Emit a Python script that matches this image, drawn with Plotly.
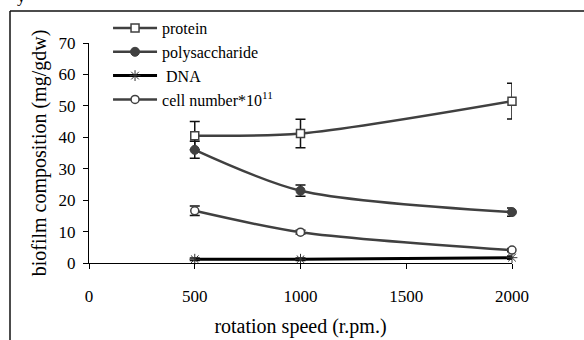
import plotly.graph_objects as go

speed = [500, 1000, 2000]
protein = [40.5, 41.2, 51.5]
protein_err = [4.5, 4.5, 5.7]
polysaccharide = [36.0, 23.0, 16.2]
polysaccharide_err = [2.7, 1.8, 1.3]
dna = [1.2, 1.2, 1.7]
dna_err = [0.4, 0.4, 0.5]
cells = [16.6, 9.8, 4.1]
cells_err = [1.5, 0.6, 0.5]

x_ticks = [0, 500, 1000, 1500, 2000]
y_ticks = [0, 10, 20, 30, 40, 50, 60, 70]

GRAY = "#404040"
FONT = "Liberation Serif"

def err(vals):
    return dict(type="data", array=vals, visible=True, color="#111111", thickness=1.5, width=5)

fig = go.Figure()
fig.add_trace(go.Scatter(
    x=speed, y=protein, name="protein", mode="lines+markers",
    line=dict(color=GRAY, width=2.5, shape="spline", smoothing=0.8),
    marker=dict(symbol="square", size=8, color="white", line=dict(color=GRAY, width=1.5)),
    error_y=err(protein_err), cliponaxis=False))
fig.add_trace(go.Scatter(
    x=speed, y=polysaccharide, name="polysaccharide", mode="lines+markers",
    line=dict(color=GRAY, width=2.5, shape="spline", smoothing=0.8),
    marker=dict(symbol="circle", size=9, color=GRAY, line=dict(color=GRAY, width=1)),
    error_y=err(polysaccharide_err), cliponaxis=False))
fig.add_trace(go.Scatter(
    x=speed, y=dna, name="\u00a0DNA", mode="lines+markers",
    line=dict(color="black", width=3, shape="spline", smoothing=0.8),
    marker=dict(symbol="asterisk-open", size=9, color="#333333", line=dict(color="#333333", width=1)),
    error_y=err(dna_err), cliponaxis=False))
fig.add_trace(go.Scatter(
    x=speed, y=cells, name="cell number*10<sup>11</sup>", mode="lines+markers",
    line=dict(color=GRAY, width=2.5, shape="spline", smoothing=0.8),
    marker=dict(symbol="circle", size=8, color="white", line=dict(color=GRAY, width=1.5)),
    error_y=err(cells_err), cliponaxis=False))

# plot area: x 89..512, y 43..263
L, R, T, B = 89, 72, 43, 77
W, H = 584 - L - R, 340 - T - B

def px(x):
    return (x - L) / W

def py(y):
    return (340 - B - y) / H

# outer frame (top and left edges)
fig.add_shape(type="line", xref="paper", yref="paper", x0=px(10), y0=py(11), x1=px(590), y1=py(11),
              line=dict(color="#111111", width=1.5))
fig.add_shape(type="line", xref="paper", yref="paper", x0=px(10), y0=py(11), x1=px(10), y1=py(345),
              line=dict(color="#111111", width=1.5))

# cut-off letter at the top-left of the page
fig.add_annotation(text="y", xref="paper", yref="paper", x=px(21), y=py(-4), xanchor="center",
                   yanchor="middle", showarrow=False, font=dict(family=FONT, size=17, color="black"))

fig.update_layout(
    width=584, height=340,
    margin=dict(l=L, r=R, t=T, b=B, autoexpand=False),
    paper_bgcolor="white", plot_bgcolor="white",
    font=dict(family=FONT, size=17, color="black"),
    showlegend=True,
    legend=dict(x=0.045, y=1.145, xanchor="left", yanchor="top", bgcolor="rgba(0,0,0,0)",
                font=dict(family=FONT, size=16), tracegroupgap=0, itemwidth=44),
    xaxis=dict(range=[0, 2000], tickvals=x_ticks, ticktext=[str(v) for v in x_ticks],
               showgrid=False, zeroline=False, showline=True, linecolor="black", linewidth=1.2,
               ticks="outside", ticklen=5, tickcolor="black", ticklabelstandoff=12,
               automargin=False,
               title=dict(text="rotation speed (r.pm.)", standoff=14)),
    yaxis=dict(range=[0, 70], tickvals=y_ticks, ticktext=[str(v) for v in y_ticks],
               showgrid=False, zeroline=False, showline=True, linecolor="black", linewidth=1.2,
               ticks="outside", ticklen=5, tickcolor="black", ticklabelstandoff=4,
               automargin=False,
               title=dict(text="biofilm composition (mg/gdw)", standoff=6)),
)

fig.write_html("out.html")
